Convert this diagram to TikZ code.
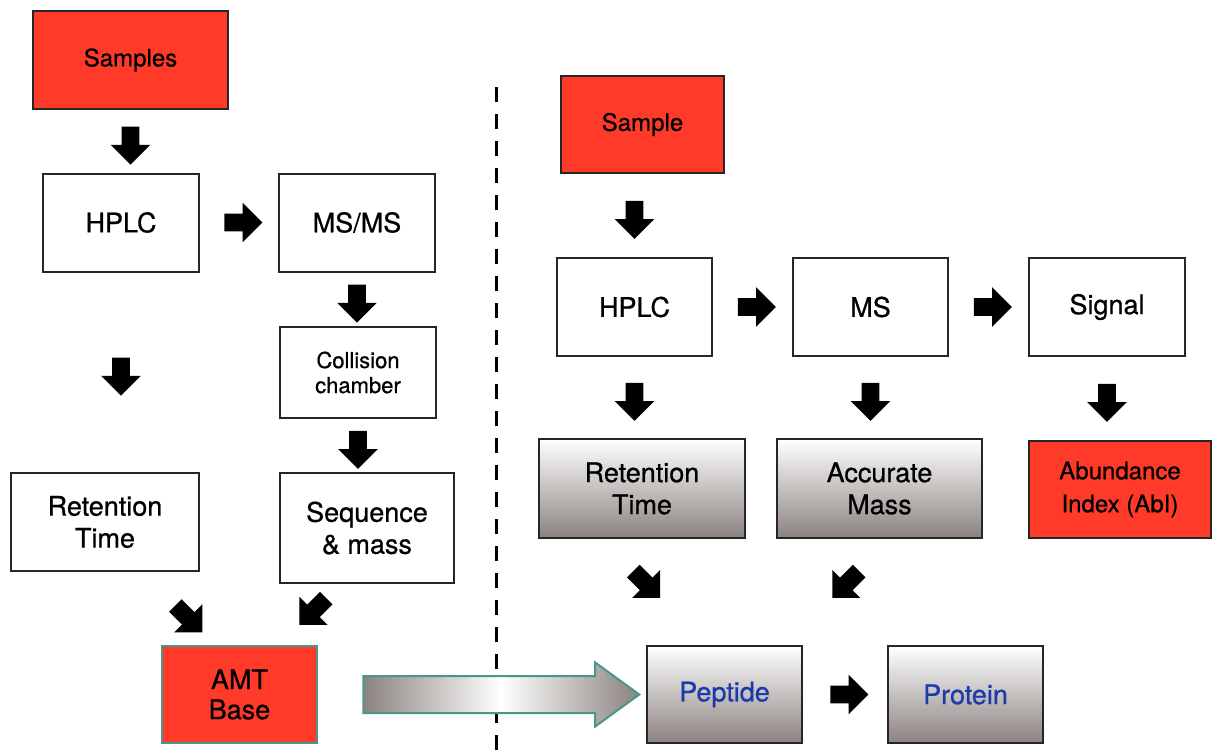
\documentclass[tikz,border=0pt]{standalone}
\usepackage{fontspec}
\setmainfont{TeX Gyre Heros}[UprightFeatures={FakeBold=0.7}]
\usetikzlibrary{shapes.arrows}
\definecolor{boxred}{RGB}{255,58,40}
\definecolor{boxgray}{RGB}{138,130,127}
\definecolor{tealedge}{RGB}{72,150,140}
\definecolor{nameblue}{RGB}{28,58,172}
\begin{document}
\begin{tikzpicture}[
            x=0.5pt,
            y=-0.5pt,
            box/.style={draw=black!85,line width=1pt,fill=white,align=center,inner sep=0pt,
                minimum width=78pt,minimum height=49pt,font=\fontsize{13.5}{16}\selectfont},
            redbox/.style={box,fill=boxred,font=\fontsize{12}{16.5}\selectfont},
            greybox/.style={box,top color=white,bottom color=boxgray},
            blk/.style={single arrow,fill=black,inner xsep=0pt,inner ysep=4.25pt,minimum height=19pt,
                minimum width=19.5pt,single arrow head extend=5.5pt},
            downarr/.style={blk,rotate=-90},
            rightarr/.style={blk},
            bigarr/.style={single arrow,draw=tealedge,line width=1pt,inner xsep=0pt,inner ysep=8.75pt,
                left color=boxgray,right color=boxgray,middle color=white,
                minimum height=138pt,minimum width=31pt,
                single arrow head extend=6.75pt,single arrow tip angle=72}
        ]
            \useasboundingbox (0,0) rectangle (1212,751);

            % separator
            \draw[line width=1.5pt,dash pattern=on 7.5pt off 6pt] (496,87) -- (496,751);

            % left: AMT base
            \node[redbox,minimum width=97.5pt] (samp) at (130.5,60) {Samples};
            \node[box] (hplcL) at (121,222.5) {HPLC};
            \node[box] (msms) at (357,222.5) {MS/MS};
            \node[box,minimum height=45.5pt,font=\fontsize{11}{12.5}\selectfont] (coll) at (358,372.5) {Collision\\chamber};
            \node[box,minimum width=94pt] (rtL) at (105,522) {Retention\\Time};
            \node[box,minimum width=87pt,minimum height=55pt] (seq) at (367,528) {Sequence\\\& mass};
            \node[box,fill=boxred,draw=tealedge,minimum width=77.5pt,minimum height=48.5pt,
                font=\fontsize{13.5}{15}\selectfont] (amt) at (239.5,694.5) {AMT\\Base};

            % right: sample run
            \node[redbox,minimum width=81.5pt,minimum height=48.5pt] (sampR) at (642.5,124.5) {Sample};
            \node[box,minimum width=77.5pt] (hplcR) at (634.5,307) {HPLC};
            \node[box,minimum width=77.5pt] (ms) at (870.5,307) {MS};
            \node[box] (sig) at (1107,307) {Signal};
            \node[greybox,minimum width=103pt,minimum height=49.5pt] (rtR) at (642,488.5) {Retention\\Time};
            \node[greybox,minimum width=102.5pt,minimum height=49.5pt] (acc) at (879.5,488.5) {Accurate\\Mass};
            \node[redbox,minimum width=91pt,minimum height=48.5pt] (abi) at (1120,489.5) {Abundance\\Index (AbI)};
            \node[greybox,minimum width=77.5pt,minimum height=48.5pt,text=nameblue] (pep) at (724.5,694.5) {Peptide};
            \node[greybox,minimum width=77.5pt,minimum height=48.5pt,text=nameblue] (prot) at (965.5,694.5) {Protein};

            % block arrows
            \foreach \a/\b in {samp/hplcL,msms/coll,coll/seq,hplcL/rtL,hplcR/rtR,ms/acc,sig/abi} {
                \path (\a.south) -- node[downarr] {} (\a.south |- \b.north);
            }
            \path (hplcR.north |- sampR.south) -- node[downarr] {} (hplcR.north);
            \foreach \a/\b in {hplcL/msms,hplcR/ms,ms/sig,pep/prot} {
                \path (\a.east) -- node[rightarr] {} (\b.west);
            }
            \path (rtL.south) -- node[pos=.6,blk,rotate=-45] {} (amt.north);
            \path (seq.south) -- node[pos=.4,blk,rotate=-135] {} (amt.north);
            \path (rtR.south) -- node[pos=.4,blk,rotate=-45] {} (pep.north west);
            \path (acc.south) -- node[pos=.4,blk,rotate=-135] {} (pep.north east);

            \path (amt.east) -- node[pos=.52,bigarr] {} (pep.west);
        \end{tikzpicture}
\end{document}
